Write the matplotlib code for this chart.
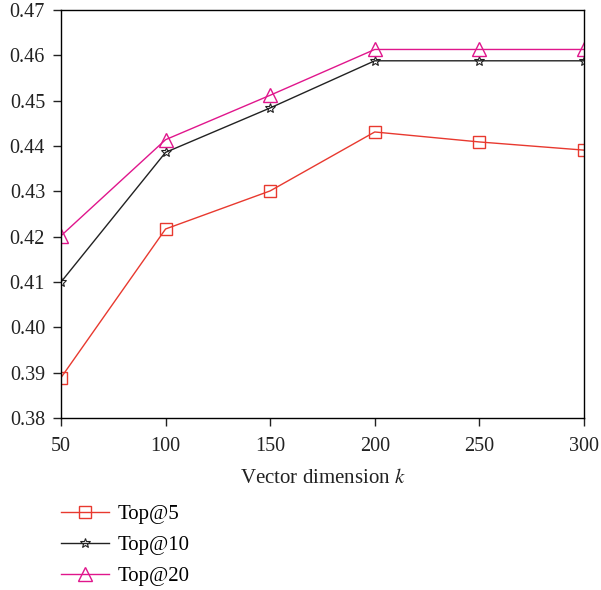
import numpy as np
import matplotlib
matplotlib.use('Agg')
from matplotlib import pyplot as plt

k = [50, 100, 150, 200, 250, 300]
top5 = [0.3889, 0.4217, 0.4301, 0.4431, 0.4409, 0.4391]
top10 = [0.4100, 0.4386, 0.4484, 0.4588, 0.4588, 0.4588]
top20 = [0.4202, 0.4414, 0.4512, 0.4613, 0.4613, 0.4613]
yticks = [0.38, 0.39, 0.40, 0.41, 0.42, 0.43, 0.44, 0.45, 0.46, 0.47]

plt.rcParams['font.family'] = ['Liberation Serif', 'DejaVu Serif']
plt.rcParams['mathtext.fontset'] = 'stix'
plt.rcParams['font.size'] = 14.5

fig = plt.figure(figsize=(6.01, 5.90), dpi=100)
ax = fig.add_axes([0.1015, 0.2915, 0.870, 0.6915])

red = '#e8392f'
mag = '#e0168c'
ax.plot(k, top5, color=red, lw=1, marker='s', ms=9, mfc='none', mec=red, mew=1, label='Top@5')
ax.plot(k, top10, color='#222222', lw=1, marker='*', ms=7, mfc='none', mec='#222222', mew=0.8, label='Top@10')
ax.plot(k, top20, color=mag, lw=1, marker='^', ms=10, mfc='none', mec=mag, mew=1, label='Top@20')

ax.set_xlim(50, 300)
ax.set_ylim(0.38, 0.47)
ax.set_xticks(k)
ax.set_yticks(yticks)
ax.set_yticklabels(['%.2f' % v for v in yticks])
ax.tick_params(direction='out', length=6, width=1, top=False, right=False,
               colors='#222222', labelsize=14.5)
ax.tick_params(axis='x', pad=8)
ax.tick_params(axis='y', pad=5.5)
for s in ax.spines.values():
    s.set_linewidth(1)
ax.set_xlabel('Vector dimension $k$', fontsize=15, color='#222222', labelpad=9)

h, l = ax.get_legend_handles_labels()
fig.legend(h, l, loc='upper left', bbox_to_anchor=(0.07, 0.177), frameon=False,
           fontsize=15, handlelength=2.3, labelspacing=0.56, handletextpad=0.45,
           borderpad=0.4)

plt.savefig('out.png', dpi=100)
